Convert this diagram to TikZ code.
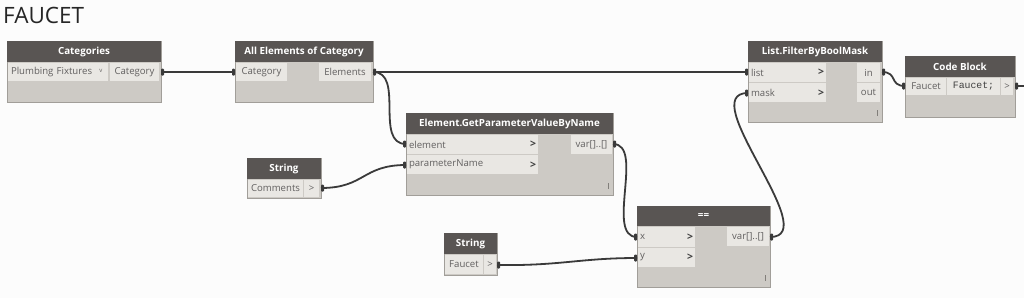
\documentclass[tikz,border=0pt]{standalone}
\usepackage{fontspec}
\usetikzlibrary{calc}
\setmainfont{Open Sans}
\newfontfamily\monofnt{Liberation Mono}
\definecolor{hdr}{HTML}{595553}
\definecolor{bodyc}{HTML}{CDCAC5}
\definecolor{portc}{HTML}{E9E7E3}
\definecolor{edgec}{HTML}{A19E99}
\definecolor{wirec}{HTML}{3A3A3A}
\definecolor{txtc}{HTML}{626060}
\definecolor{bg}{HTML}{FCFCFC}
\tikzset{
  body/.style={draw=edgec, line width=0.8pt, fill=bodyc, anchor=north west, inner sep=0pt, outer sep=0pt},
  head/.style={fill=hdr, anchor=north west, inner sep=0pt, outer sep=0pt, text=white, font=\fontsize{9.8}{11}\selectfont\bfseries},
  port/.style={fill=portc, anchor=north west, inner sep=0pt, outer sep=0pt, text=txtc, font=\fontsize{9.6}{10}\selectfont},
  wire/.style={draw=wirec, line width=1.8pt},
  pin/.style={fill=wirec, rounded corners=1pt},
  chev/.style={text=black!75, font=\fontsize{10.5}{11}\selectfont\bfseries, inner sep=0pt},
  lace/.style={draw=edgec!80!black, line width=0.6pt}
}
\begin{document}
\begin{tikzpicture}[x=1pt,y=-1pt]
\fill[bg] (0,0) rectangle (1024,298);
\useasboundingbox (0,0) rectangle (1024,298);
\node[anchor=west, inner sep=0pt, font=\fontsize{22.5}{24}\selectfont, text=black!85] (title) at (3,15) {FAUCET};

% ---------- Categories
\node[body, minimum width=154pt, minimum height=61pt] (catB) at (7,41) {};
\node[head, minimum width=154pt, minimum height=21pt] (catH) at (7,41) {Categories};
\node[port, minimum width=100pt, minimum height=18pt, text width=96pt, align=left] (catDrop) at (8,63) {\hspace*{1pt}Plumbing Fixtures};
\node[text=txtc, font=\fontsize{6}{6}\selectfont, inner sep=0pt] (catV) at (101,71) {v};
\node[port, minimum width=49pt, minimum height=18pt] (catOutBox) at (110,63) {Category};
\coordinate (catOut) at (161,72);

% ---------- All Elements of Category
\node[body, minimum width=138pt, minimum height=61pt] (aeB) at (235,41) {};
\node[head, minimum width=138pt, minimum height=21pt] (aeH) at (235,41) {All Elements of Category};
\node[port, minimum width=51pt, minimum height=18pt] (aeInBox) at (236,63) {Category};
\node[port, minimum width=52pt, minimum height=18pt] (aeOutBox) at (319,63) {Elements};
\coordinate (aeIn) at (235,72);
\coordinate (aeOut) at (373,72);

% ---------- Element.GetParameterValueByName
\node[body, minimum width=207pt, minimum height=82pt] (gpB) at (406,113) {};
\node[head, minimum width=207pt, minimum height=21pt] (gpH) at (406,113) {Element.GetParameterValueByName};
\node[port, minimum width=131pt, minimum height=19pt, text width=127pt, align=left] (gpEl) at (407,135) {element};
\node[port, minimum width=131pt, minimum height=19pt, text width=127pt, align=left] (gpPn) at (407,155) {parameterName};
\node[chev] (gpC1) at (533,144) {>};
\node[chev] (gpC2) at (533,165) {>};
\node[port, minimum width=41pt, minimum height=19pt] (gpOutBox) at (571,135) {var[]..[]};
\draw[lace] (608,183) -- (608,189);
\coordinate (gpIn1) at (406,144);
\coordinate (gpIn2) at (406,165);
\coordinate (gpOut) at (613,144);

% ---------- String Comments
\node[body, minimum width=74pt, minimum height=40pt] (s1B) at (247,158) {};
\node[head, minimum width=74pt, minimum height=21pt] (s1H) at (247,158) {String};
\node[port, minimum width=55pt, minimum height=17pt] (s1Val) at (248,180) {Comments};
\node[port, minimum width=15pt, minimum height=17pt] (s1Gt) at (304,180) {>};
\coordinate (s1Out) at (321,188);

% ---------- String Faucet
\node[body, minimum width=53pt, minimum height=42pt] (s2B) at (444,233) {};
\node[head, minimum width=53pt, minimum height=21pt] (s2H) at (444,233) {String};
\node[port, minimum width=38pt, minimum height=19pt] (s2Val) at (445,255) {Faucet};
\node[port, minimum width=12pt, minimum height=19pt] (s2Gt) at (484,255) {>};
\coordinate (s2Out) at (497,265);

% ---------- ==
\node[body, minimum width=133pt, minimum height=81pt] (eqB) at (637,206) {};
\node[head, minimum width=133pt, minimum height=20pt] (eqH) at (637,206) {==};
\node[port, minimum width=57pt, minimum height=20pt, text width=53pt, align=left] (eqX) at (638,227) {x};
\node[port, minimum width=57pt, minimum height=19pt, text width=53pt, align=left] (eqY) at (638,248) {y};
\node[chev] (eqC1) at (690,237) {>};
\node[chev] (eqC2) at (690,257) {>};
\node[port, minimum width=42pt, minimum height=19pt] (eqOutBox) at (727,227) {var[]..[]};
\draw[lace] (765,275) -- (765,281);
\coordinate (eqIn1) at (637,237);
\coordinate (eqIn2) at (637,258);
\coordinate (eqOut) at (770,237);

% ---------- List.FilterByBoolMask
\node[body, minimum width=134pt, minimum height=81pt] (lfB) at (748,41) {};
\node[head, minimum width=134pt, minimum height=21pt] (lfH) at (748,41) {List.FilterByBoolMask};
\node[port, minimum width=77pt, minimum height=19pt, text width=73pt, align=left] (lfList) at (749,63) {list};
\node[port, minimum width=77pt, minimum height=19pt, text width=73pt, align=left] (lfMask) at (749,83) {mask};
\node[chev] (lfC1) at (821,72) {>};
\node[chev] (lfC2) at (821,93) {>};
\node[port, minimum width=23pt, minimum height=19pt] (lfInBox) at (857,63) {in};
\node[port, minimum width=23pt, minimum height=19pt] (lfOutBox) at (857,83) {out};
\draw[lace] (877,110) -- (877,116);
\coordinate (lfIn1) at (748,72);
\coordinate (lfIn2) at (748,93);
\coordinate (lfOut1) at (882,72);

% ---------- Code Block
\node[body, minimum width=110pt, minimum height=61pt] (cbB) at (905,56) {};
\node[head, minimum width=110pt, minimum height=21pt] (cbH) at (905,56) {Code Block};
\node[port, minimum width=40pt, minimum height=17pt] (cbLbl) at (906,78) {Faucet};
\node[port, minimum width=53pt, minimum height=17pt, text=black!75, font=\fontsize{9.8}{10}\monofnt] (cbCode) at (947,78) {Faucet;};
\node[port, minimum width=12pt, minimum height=17pt] (cbGt) at (1001,78) {>};
\coordinate (cbIn) at (905,86);
\coordinate (cbOut) at (1015,86);
\coordinate (cbEnd) at (1024,86);

% ---------- wires
\draw[wire] (catOut) -- (aeIn);
\draw[wire] (aeOut) -- (lfIn1);
\draw[wire] (aeOut) .. controls (405,72) and (374,144) .. (gpIn1);
\draw[wire] (s1Out) .. controls (365,188) and (362,165) .. (gpIn2);
\draw[wire] (gpOut) .. controls (645,144) and (605,237) .. (eqIn1);
\draw[wire] (s2Out) .. controls (560,266) and (580,258) .. (eqIn2);
\draw[wire] (eqOut) .. controls (825,237) and (693,93) .. (lfIn2);
\draw[wire] (lfOut1) .. controls (898,72) and (889,86) .. (cbIn);
\draw[wire] (cbOut) -- (cbEnd);

% ---------- pins
\foreach \p in {catOut,aeOut,gpOut,s1Out,s2Out,eqOut,lfOut1,cbOut}{
  \fill[pin] ($(\p)+(0,-3.5)$) rectangle ($(\p)+(3,3.5)$);
}
\foreach \p in {aeIn,gpIn1,gpIn2,eqIn1,eqIn2,lfIn2,lfIn1,cbIn}{
  \fill[pin] ($(\p)+(-3,-3.5)$) rectangle ($(\p)+(0,3.5)$);
}
\end{tikzpicture}
\end{document}
